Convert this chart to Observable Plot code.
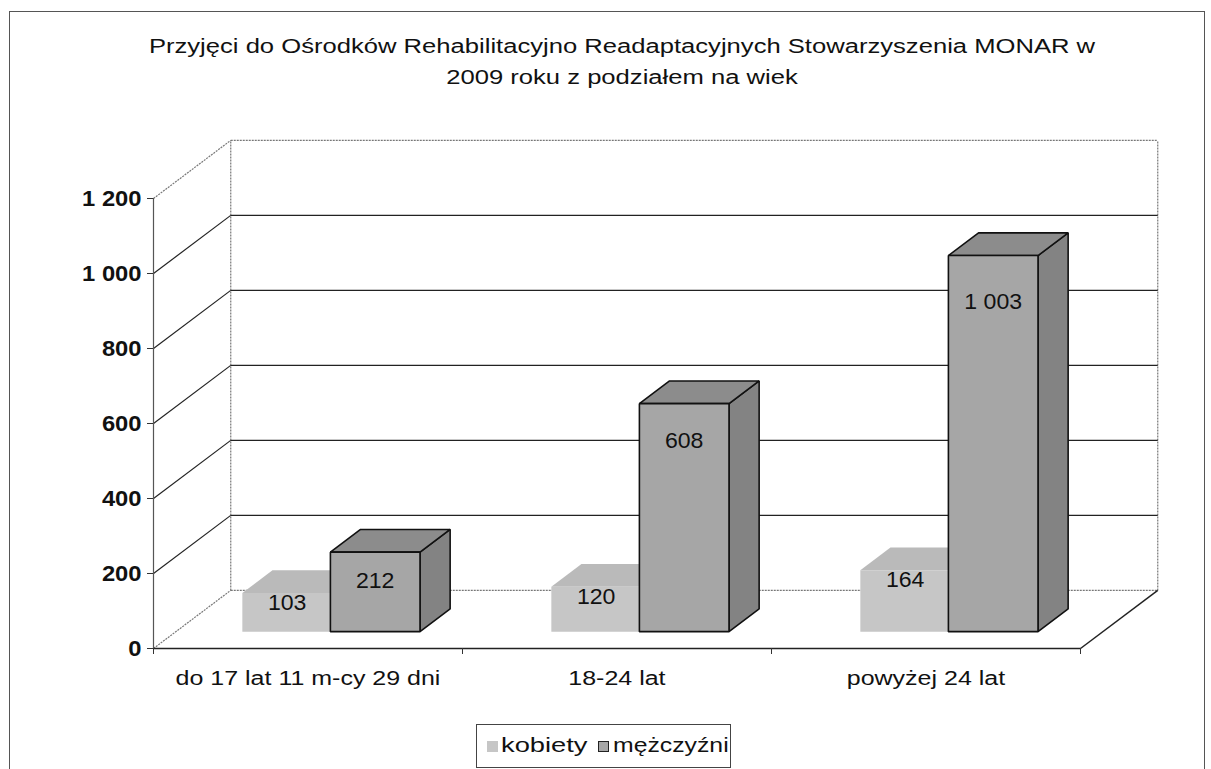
<!DOCTYPE html>
<html>
<head>
<meta charset="utf-8">
<script src="https://cdn.jsdelivr.net/npm/d3@7"></script>
<script src="https://cdn.jsdelivr.net/npm/@observablehq/plot@0.6"></script>
<style>
  body { margin: 0; background: #fff; font-family: "Liberation Sans", Arial, sans-serif; }
  #page { position: relative; width: 1211px; height: 769px; overflow: hidden; background: #fff; }
  #frame { position: absolute; left: 9px; top: 11px; width: 1194px; height: 820px; border: 1.5px solid #555; border-bottom: none; }
  #title { position: absolute; left: 0; top: 31px; width: 1244px; text-align: center; font-size: 20px; line-height: 31px; color: #111;
           transform: scaleX(1.28); transform-origin: 622px 0; }
  #chart { position: absolute; left: 0; top: 100px; }
  #legend { position: absolute; left: 476px; top: 724px; width: 255px; height: 44px; border: 1.2px solid #444; background: #fff;
            box-sizing: border-box; font-size: 21px; color: #111; }
  .sw { position: absolute; top: 16px; width: 11px; height: 11px; box-sizing: border-box; }
  .txt { position: absolute; top: 8px; line-height: 24px; white-space: nowrap; transform-origin: 0 0; }
</style>
</head>
<body>
<div id="page">
  <div id="frame"></div>
  <div id="title">Przyjęci do Ośrodków Rehabilitacyjno Readaptacyjnych Stowarzyszenia MONAR w<br>2009 roku z podziałem na wiek</div>
  <div id="chart"></div>
  <div id="legend"></div>
</div>
<script>
// ---- data ----
const categories = ["do 17 lat 11 m-cy 29 dni", "18-24 lat", "powyżej 24 lat"];
const series = ["kobiety", "mężczyźni"];
const kobiety = [103, 120, 164];
const mezczyzni = [212, 608, 1003];
const yTicks = [0, 200, 400, 600, 800, 1000, 1200];

// ---- styling / layout constants ----
const colors = {
  "kobiety":   {front: "#c6c6c6", top: "#bababa", side: "#aeaeae", stroke: "none"},
  "mężczyźni": {front: "#a6a6a6", top: "#8c8c8c", side: "#838383", stroke: "#111"}
};
const D = {dx: 0.25, dy: 155};            // full depth offset of the box, in data units
const slot = {"kobiety": 0.215, "mężczyźni": 0.5};
const barW = 0.29, dF = 0.29, dB = 0.68;  // bar width and depth span
const P = (u, v, d) => ({x: u + d * D.dx, y: v + d * D.dy});

const locale = d3.formatLocale({decimal: ",", thousands: " ", grouping: [3], currency: ["", ""]});
const fmt = locale.format(",");

// bars
const bars = [];
categories.forEach((c, i) => {
  series.forEach((s) => {
    const v = s === "kobiety" ? kobiety[i] : mezczyzni[i];
    const u0 = i + slot[s];
    bars.push({c, s, v, u0, u1: u0 + barW});
  });
});

// faces (painter's order: left to right, side, top, front)
const faces = [];
bars.forEach((b, k) => {
  const col = colors[b.s];
  const polys = {
    side:  [P(b.u1, 0, dF), P(b.u1, 0, dB), P(b.u1, b.v, dB), P(b.u1, b.v, dF)],
    top:   [P(b.u0, b.v, dF), P(b.u1, b.v, dF), P(b.u1, b.v, dB), P(b.u0, b.v, dB)],
    front: [P(b.u0, 0, dF), P(b.u1, 0, dF), P(b.u1, b.v, dF), P(b.u0, b.v, dF)]
  };
  for (const f of ["side", "top", "front"]) {
    polys[f].forEach(p => faces.push({id: `${k}-${f}`, x: p.x, y: p.y, fill: col[f], stroke: col.stroke}));
  }
});

// walls & floor
const backGrid = yTicks.slice(1, -1).map(t => ({x1: D.dx, y1: t + D.dy, x2: 3 + D.dx, y2: t + D.dy}));
const sideGrid = yTicks.slice(1, -1).map(t => ({x1: 0, y1: t, x2: D.dx, y2: t + D.dy}));
const edges = [
  {x1: 0, y1: 0, x2: D.dx, y2: D.dy},
  {x1: 0, y1: 1200, x2: D.dx, y2: 1200 + D.dy},
  {x1: D.dx, y1: D.dy, x2: D.dx, y2: 1200 + D.dy},
  {x1: 3 + D.dx, y1: D.dy, x2: 3 + D.dx, y2: 1200 + D.dy},
  {x1: D.dx, y1: 1200 + D.dy, x2: 3 + D.dx, y2: 1200 + D.dy},
  {x1: D.dx, y1: D.dy, x2: 3 + D.dx, y2: D.dy}
];
const floor = [
  {x1: 0, y1: 0, x2: 3, y2: 0},
  {x1: 3, y1: 0, x2: 3 + D.dx, y2: D.dy}
];

const labelY = b => (b.s === "kobiety" ? b.v - 26.7 : 0.941 * b.v - 64) + dF * D.dy;

const chart = Plot.plot({
  width: 1211,
  height: 620,
  marginLeft: 153,
  marginRight: 131,
  marginTop: 98,
  marginBottom: 72,
  x: {type: "linear", domain: [0, 3], axis: null},
  y: {type: "linear", domain: [0, 1200], axis: null},
  color: {type: "identity"},
  style: {fontFamily: "'Liberation Sans', Arial, sans-serif", color: "#111", background: "transparent"},
  marks: [
    Plot.link(edges, {x1: "x1", y1: "y1", x2: "x2", y2: "y2", stroke: "#777", strokeWidth: 1.2, strokeDasharray: "2,1"}),
    Plot.link(backGrid, {x1: "x1", y1: "y1", x2: "x2", y2: "y2", stroke: "#222", strokeWidth: 1.2}),
    Plot.link(sideGrid, {x1: "x1", y1: "y1", x2: "x2", y2: "y2", stroke: "#222", strokeWidth: 1.2}),
    Plot.link(floor, {x1: "x1", y1: "y1", x2: "x2", y2: "y2", stroke: "#222", strokeWidth: 1.5}),
    Plot.ruleX([0], {y1: 0, y2: 1200, stroke: "#555", strokeWidth: 1.2}),
    Plot.axisY({ticks: yTicks, tickFormat: fmt, tickSize: 6, tickPadding: 6, fontSize: 22, fontWeight: "bold", label: null, stroke: "#333"}),
    Plot.axisX({ticks: [0, 1, 2, 3], tickFormat: () => "", tickSize: 6, label: null, stroke: "#333"}),
    Plot.line(faces, {x: "x", y: "y", z: "id", fill: "fill", stroke: "stroke", strokeWidth: 1.6, curve: "linear-closed", strokeLinejoin: "miter"}),
    Plot.text(bars, {x: b => (b.u0 + b.u1) / 2 + dF * D.dx, y: labelY, text: b => fmt(b.v), fontSize: 22, fill: "#111", ariaLabel: () => "value"}),
    Plot.text(categories, {x: (d, i) => i + 0.5, y: () => 0, text: d => d, dy: 30, fontSize: 20, fill: "#111", ariaLabel: () => "category"})
  ]
});
document.getElementById("chart").appendChild(chart);

// widen glyphs horizontally (the reference's text is rendered wider)
function stretch(selector, s, anchor) {
  chart.querySelectorAll(selector).forEach(t => {
    const b = t.getBBox();
    const cx = anchor === "end" ? b.x + b.width : b.x + b.width / 2;
    const prev = t.getAttribute("transform") || "";
    t.setAttribute("transform", `${prev} translate(${cx},0) scale(${s},1) translate(${-cx},0)`);
  });
}
stretch('text[aria-label="category"], [aria-label="category"] text', 1.25, "middle");
stretch('[aria-label="y-axis tick label"] text', 1.08, "end");
stretch('text[aria-label="value"], [aria-label="value"] text', 1.05, "middle");

// legend
const lg = document.getElementById("legend");
const legendPos = [{sw: 10, txt: 24, s: 1.3}, {sw: 121, txt: 136, s: 1.18}];
series.forEach((s, i) => {
  const sw = document.createElement("span");
  sw.className = "sw";
  sw.style.left = legendPos[i].sw + "px";
  sw.style.background = colors[s].front;
  sw.style.border = s === "kobiety" ? "none" : "1px solid #222";
  const t = document.createElement("span");
  t.className = "txt";
  t.style.left = legendPos[i].txt + "px";
  t.style.transform = `scaleX(${legendPos[i].s})`;
  t.textContent = s;
  lg.appendChild(sw);
  lg.appendChild(t);
});
</script>
</body>
</html>
